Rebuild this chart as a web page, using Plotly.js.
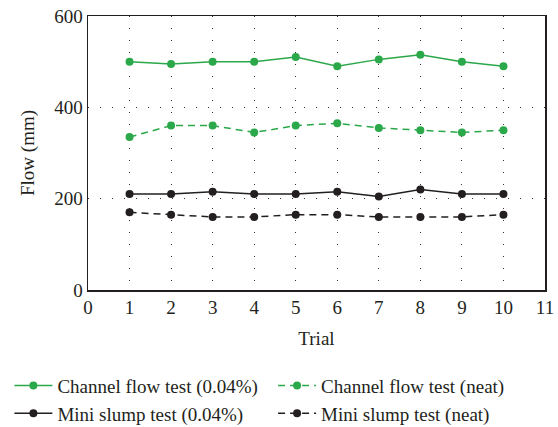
<!DOCTYPE html>
<html><head><meta charset="utf-8">
<script src="https://cdn.plot.ly/plotly-3.0.1.min.js"></script>
<style>html,body{margin:0;padding:0;background:#fff}#chart{width:558px;height:427px}</style>
</head><body><div id="chart"></div>
<script>
const trials = [1,2,3,4,5,6,7,8,9,10];
const channel004 = [500,495,500,500,510,490,505,515,500,490];
const channelNeat = [335,360,360,345,360,365,355,350,345,350];
const slump004 = [210,210,215,210,210,215,205,220,210,210];
const slumpNeat = [170,165,160,160,165,165,160,160,160,165];
const names = ["Channel flow test (0.04%)","Channel flow test (neat)","Mini slump test (0.04%)","Mini slump test (neat)"];
const xTicks = [0,1,2,3,4,5,6,7,8,9,10,11];
const yTicks = [0,200,400,600];

const green = "#2ba84a", black = "#231f20";
function tr(y, name, color, dash, leg){
  return {x: trials, y: y, name: name, type: "scatter", mode: "lines+markers",
    legend: leg,
    line: {color: color, width: 1.5, dash: dash}, marker: {color: color, size: 8}};
}
const data = [
  tr(channel004, names[0], green, "solid", "legend"),
  tr(channelNeat, names[1], green, "7px,5px", "legend2"),
  tr(slump004, names[2], black, "solid", "legend"),
  tr(slumpNeat, names[3], black, "7px,5px", "legend2")
];
const font = {family: "Liberation Serif, Times New Roman, serif", size: 19, color: "#231f20"};
const legFont = {family: "Liberation Serif, Times New Roman, serif", size: 19, color: "#231f20"};
const axisCommon = {showgrid: true, gridcolor: "#333", griddash: "1px,11px", gridwidth: 1,
    showline: true, linecolor: "#231f20", linewidth: 1.5, mirror: true,
    zeroline: false, ticks: "", ticklen: 0};
const layout = {
  width: 558, height: 427,
  margin: {l: 88, r: 13, t: 16, b: 137, autoexpand: false},
  paper_bgcolor: "#fff", plot_bgcolor: "#fff",
  font: font,
  showlegend: true,
  xaxis: Object.assign({range: [0, 11], tickvals: xTicks, ticktext: xTicks.map(String),
    title: {text: "Trial", font: font, standoff: 14}}, axisCommon),
  yaxis: Object.assign({range: [0, 600], tickvals: yTicks, ticktext: yTicks.map(String),
    title: {text: "Flow (mm)", font: font, standoff: 14}}, axisCommon),
  legend: {orientation: "v", x: -0.172, xanchor: "left", y: -0.28, yanchor: "top",
    font: legFont, tracegroupgap: 0, itemwidth: 38, bgcolor: "rgba(0,0,0,0)"},
  legend2: {orientation: "v", x: 0.405, xanchor: "left", y: -0.28, yanchor: "top",
    font: legFont, tracegroupgap: 0, itemwidth: 38, bgcolor: "rgba(0,0,0,0)"}
};
Plotly.newPlot("chart", data, layout, {displayModeBar: false, staticPlot: true});
</script></body></html>
